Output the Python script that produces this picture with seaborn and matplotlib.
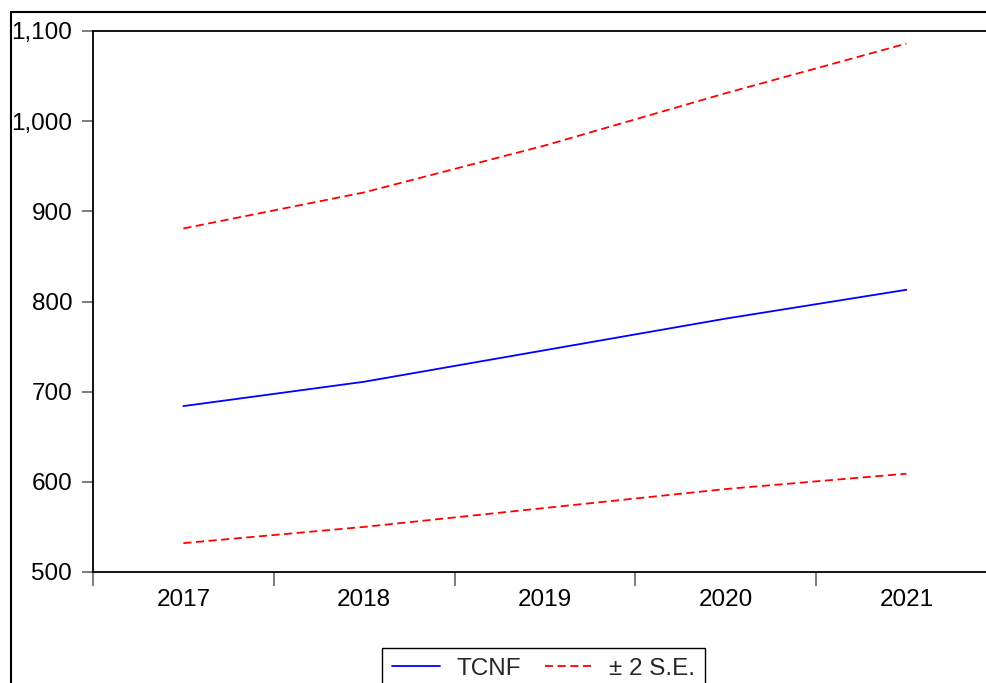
import matplotlib
matplotlib.use("Agg")
import matplotlib.pyplot as plt
from matplotlib.lines import Line2D
from matplotlib.patches import Rectangle
import seaborn as sns
import pandas as pd

years = [2017, 2018, 2019, 2020, 2021]
tcnf = [684, 711, 746, 781, 813]
upper = [881, 921, 973, 1031, 1086]
lower = [532, 550, 571, 592, 609]
y_ticks = [500, 600, 700, 800, 900, 1000, 1100]
y_labels = ["500", "600", "700", "800", "900", "1,000", "1,100"]

sns.set_theme(style="white")
plt.rcParams['font.family'] = ['Liberation Sans', 'DejaVu Sans']

fig = plt.figure(figsize=(9.87, 6.83), dpi=100)
W, H = 987, 683
ax = fig.add_axes([93 / W, 1 - 572 / H, (996.75 - 93) / W, (572 - 31) / H])

DASH = (0, (4.5, 2.5))
LW = 1.3
df = pd.DataFrame({"year": years, "tcnf": tcnf, "upper": upper, "lower": lower})
sns.lineplot(data=df, x="year", y="tcnf", ax=ax, color="#0000ff", lw=LW)
sns.lineplot(data=df, x="year", y="upper", ax=ax, color="#ff0000", lw=LW)
sns.lineplot(data=df, x="year", y="lower", ax=ax, color="#ff0000", lw=LW)
for ln in ax.lines[1:]:
    ln.set_linestyle(DASH)

ax.set_xlim(2016.5, 2021.5)
ax.set_ylim(500, 1100)
ax.set_xlabel("")
ax.set_ylabel("")

FS = 17.5
ax.set_yticks(y_ticks)
ax.set_yticklabels(y_labels)
ax.set_xticks([2016.5 + i for i in range(6)])
ax.set_xticklabels([])
ax.set_xticks(years, minor=True)
ax.set_xticklabels([str(y) for y in years], minor=True)

ax.tick_params(axis="y", which="major", direction="out", length=8, width=1.2,
               color="#666666", labelsize=FS, pad=7, left=True, labelcolor="black")
ax.tick_params(axis="x", which="major", direction="out", length=10, width=1.2,
               color="#666666", bottom=True)
ax.tick_params(axis="x", which="minor", length=0, labelsize=FS, pad=12, labelcolor="black")

for s in ["left", "bottom", "top"]:
    ax.spines[s].set_color("black")
    ax.spines[s].set_linewidth(1.3)
    ax.spines[s].set_visible(True)
ax.spines["right"].set_visible(False)

# outer frame
fig.add_artist(Rectangle((11 / W, -0.2), 1.5, 1.2 - 12 / H, transform=fig.transFigure,
                         fill=False, edgecolor="black", lw=1.5, clip_on=False))

handles = [Line2D([], [], color="#0000ff", lw=LW),
           Line2D([], [], color="#ff0000", lw=LW, linestyle=DASH)]
leg = fig.legend(handles, ["TCNF", "± 2 S.E."], loc="upper center",
                 bbox_to_anchor=(543.5 / W, 1 - 648 / H), ncol=2, fontsize=FS,
                 frameon=True, fancybox=False, shadow=False, framealpha=1,
                 handlelength=2.0, handletextpad=0.65, columnspacing=1.0,
                 borderpad=0.4, borderaxespad=0)
leg.get_frame().set_edgecolor("black")
leg.get_frame().set_linewidth(1.0)

fig.savefig("out.png", dpi=100)
